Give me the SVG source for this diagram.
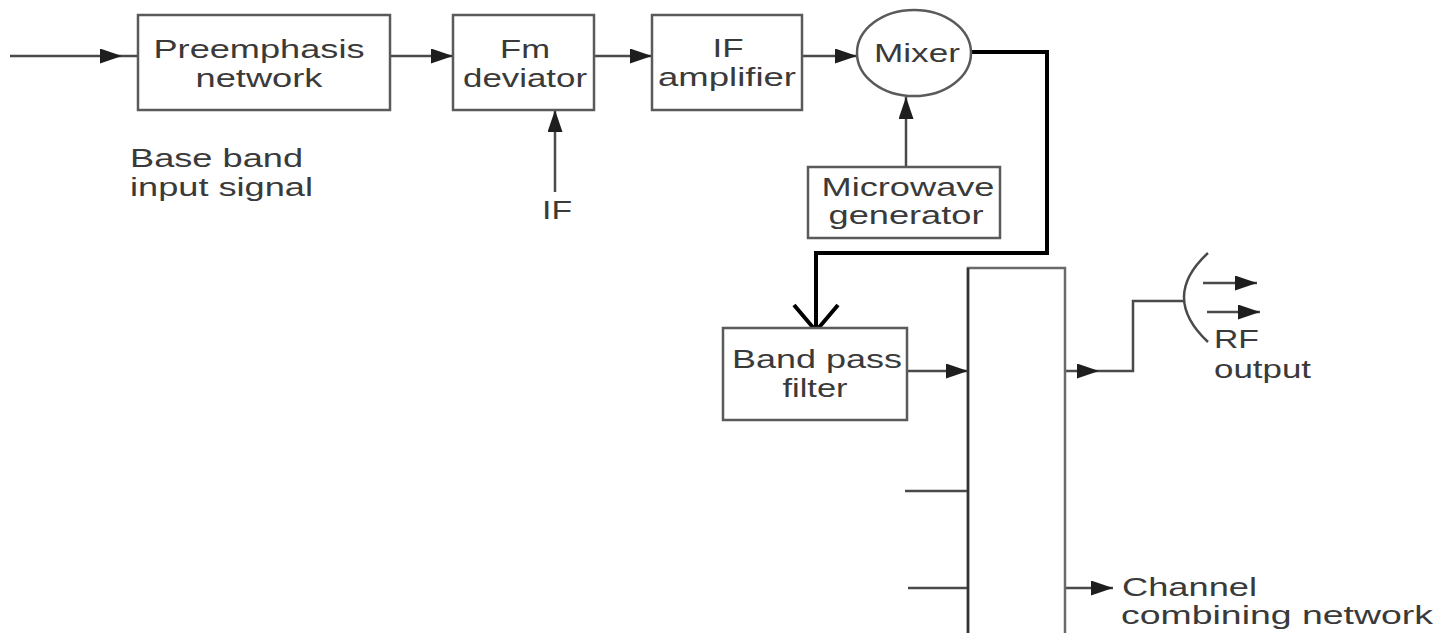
<svg xmlns="http://www.w3.org/2000/svg" width="1442" height="633" viewBox="0 0 1442 633">
<style>
text{font-family:"Liberation Sans",Arial,sans-serif;font-size:26px;fill:#3a3a3a}
.box{fill:#fff;stroke:#5a5a5a;stroke-width:2.5}
.ln{fill:none;stroke:#4a4a4a;stroke-width:2.5}
.thick{fill:none;stroke:#000;stroke-width:4}
.c{text-anchor:middle}
</style>
<defs>
<marker id="ahb" viewBox="0 0 10 10" refX="10" refY="5" markerWidth="22" markerHeight="15" markerUnits="userSpaceOnUse" orient="auto" preserveAspectRatio="none">
<path d="M0,0 L10,5 L0,10 Z" fill="#1e1e1e"/>
</marker>
</defs>
<rect width="1442" height="633" fill="#fff"/>

<g id="connectors">
<path class="ln" d="M10,56 H122" marker-end="url(#ahb)"/>
<path class="ln" d="M122,56 H138"/>
<path class="ln" d="M390,56 H453" marker-end="url(#ahb)"/>
<path class="ln" d="M594,56 H652" marker-end="url(#ahb)"/>
<path class="ln" d="M802,56 H857" marker-end="url(#ahb)"/>
<path class="ln" d="M555,192 V110" marker-end="url(#ahb)"/>
<path class="ln" d="M906,167 V97" marker-end="url(#ahb)"/>
<path class="thick" d="M971,52 H1047 V253 H816 V331"/>
<polyline class="thick" points="794,305 816,331 838,305"/>
<path class="ln" d="M907,371 H968" marker-end="url(#ahb)"/>
<path class="ln" d="M1065,371 H1099" marker-end="url(#ahb)"/>
<path class="ln" d="M1099,371 H1133 V301 H1184"/>
<path class="ln" d="M905,491 H968"/>
<path class="ln" d="M908,588 H968"/>
<path class="ln" d="M1065,588 H1113" marker-end="url(#ahb)"/>
<path class="ln" d="M1203,283 H1257" marker-end="url(#ahb)"/>
<path class="ln" d="M1207,312 H1260" marker-end="url(#ahb)"/>
</g>

<g id="preemphasis">
<rect class="box" x="138" y="15" width="252" height="95"/>
<text class="c" x="259" y="58" textLength="211" lengthAdjust="spacingAndGlyphs">Preemphasis</text>
<text class="c" x="259" y="87" textLength="127" lengthAdjust="spacingAndGlyphs">network</text>
</g>

<g id="base-band-label">
<text x="130" y="167" textLength="173" lengthAdjust="spacingAndGlyphs">Base band</text>
<text x="130" y="196" textLength="183" lengthAdjust="spacingAndGlyphs">input signal</text>
</g>

<g id="fm-deviator">
<rect class="box" x="453" y="15" width="141" height="95"/>
<text class="c" x="525" y="58" textLength="50" lengthAdjust="spacingAndGlyphs">Fm</text>
<text class="c" x="525" y="87" textLength="124" lengthAdjust="spacingAndGlyphs">deviator</text>
</g>

<g id="if-label">
<text class="c" x="557" y="219" textLength="30" lengthAdjust="spacingAndGlyphs">IF</text>
</g>

<g id="if-amplifier">
<rect class="box" x="652" y="15" width="150" height="95"/>
<text class="c" x="728" y="57" textLength="31" lengthAdjust="spacingAndGlyphs">IF</text>
<text class="c" x="727" y="86" textLength="138" lengthAdjust="spacingAndGlyphs">amplifier</text>
</g>

<g id="mixer">
<ellipse class="box" cx="914" cy="53" rx="57" ry="43"/>
<text class="c" x="917" y="62" textLength="86" lengthAdjust="spacingAndGlyphs">Mixer</text>
</g>

<g id="microwave-generator">
<rect class="box" x="808" y="167" width="192" height="71"/>
<text class="c" x="908" y="196" textLength="173" lengthAdjust="spacingAndGlyphs">Microwave</text>
<text class="c" x="906" y="224" textLength="155" lengthAdjust="spacingAndGlyphs">generator</text>
</g>

<g id="band-pass-filter">
<rect class="box" x="723" y="328" width="184" height="92"/>
<text class="c" x="817" y="368" textLength="170" lengthAdjust="spacingAndGlyphs">Band pass</text>
<text class="c" x="815" y="397" textLength="65" lengthAdjust="spacingAndGlyphs">filter</text>
</g>

<g id="channel-combining-network">
<rect x="968" y="268" width="97" height="380" fill="#fff" stroke="#6a6a6a" stroke-width="2.5"/>
<path d="M968,268 V640" stroke="#333" stroke-width="2.5" fill="none"/>
<text x="1122" y="596" textLength="135" lengthAdjust="spacingAndGlyphs">Channel</text>
<text x="1121" y="624" textLength="312" lengthAdjust="spacingAndGlyphs">combining network</text>
</g>

<g id="rf-antenna">
<path class="ln" d="M1208,253 Q1160,297 1208,342"/>
<text x="1214" y="348" textLength="45" lengthAdjust="spacingAndGlyphs">RF</text>
<text x="1214" y="378" textLength="97" lengthAdjust="spacingAndGlyphs">output</text>
</g>
</svg>
